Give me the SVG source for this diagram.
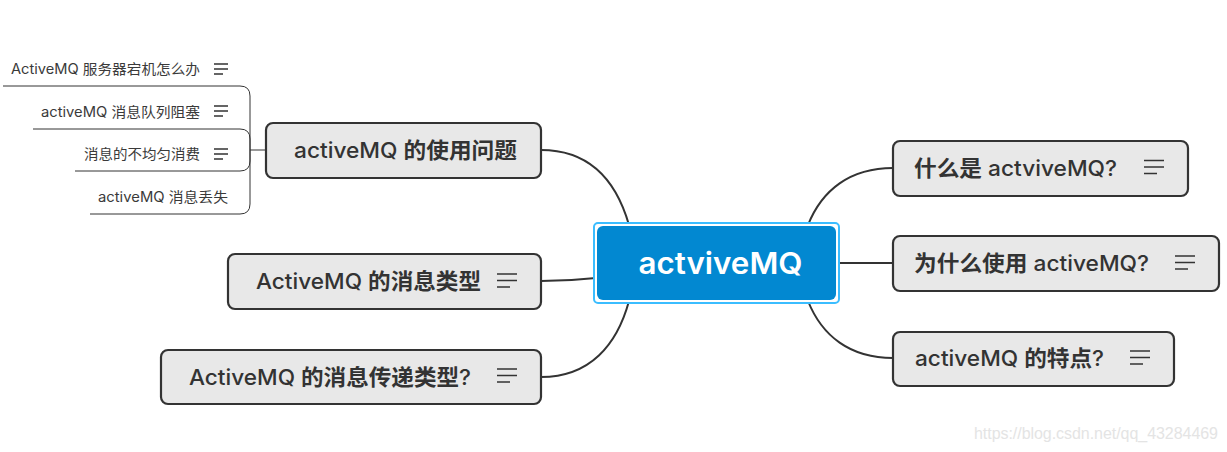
<svg xmlns="http://www.w3.org/2000/svg" width="1227" height="452" viewBox="0 0 1227 452">
<style>
text{font-family:"Inter","Noto Sans CJK SC",sans-serif;fill:#333}
.topic{fill:#e8e8e8;stroke:#333;stroke-width:2.200}
.t{font-size:22px;font-weight:500}
.c{font-weight:700}
.s{font-size:14px;fill:#3a3a3a}
.link{fill:none;stroke:#333;stroke-width:2}
.sub{fill:none;stroke:#333;stroke-width:1}
.n{fill:none;stroke:#333;stroke-width:1.300}
</style>
<defs><g id="note"><path class="n" d="M0 0H20M0 6.500H20M0 13H13"/></g><g id="smallnote"><path class="n" d="M0 0H14M0 5H14M0 10H9"/></g></defs>
<rect width="1227" height="452" fill="#fff"/>
<g id="connectors">
<path class="link" d="M541 150C590 150 616 180 629 225"/>
<path class="link" d="M541 281C560 281 578 280 596 278"/>
<path class="link" d="M541 377C590 377 617 345 629 301"/>
<path class="link" d="M808 225C822 190 850 168 893 168"/>
<path class="link" d="M836 263H893"/>
<path class="link" d="M808 301C822 336 850 358 893 358"/>
<path d="M250 150H266" fill="none" stroke="#777" stroke-width="1.500"/>
<path class="sub" d="M3 86H240Q250 86 250 96V204Q250 214 240 214H90"/>
<path class="sub" d="M33 129H240Q250 129 250 139V161Q250 171 240 171H75"/>
</g>
<g id="center">
<rect x="594" y="223" width="245" height="80" rx="4" fill="#fff" stroke="#3bbdff" stroke-width="2"/>
<rect x="597" y="226" width="239" height="74" rx="6" fill="#0288d1"/>
<text x="638.500" y="274" font-size="30" font-weight="600" style="fill:#fff" textLength="164" lengthAdjust="spacingAndGlyphs">actviveMQ</text>
</g>
<g id="what"><rect class="topic" x="893" y="141" width="295" height="55" rx="7"/><text class="t" x="914" y="176" textLength="203" lengthAdjust="spacingAndGlyphs"><tspan class="c">什么是</tspan> actviveMQ?</text><use href="#note" x="1144" y="160.500"/></g>
<g id="why"><rect class="topic" x="893" y="236" width="326" height="55" rx="7"/><text class="t" x="914" y="271" textLength="235" lengthAdjust="spacingAndGlyphs"><tspan class="c">为什么使用</tspan> activeMQ?</text><use href="#note" x="1175" y="256"/></g>
<g id="features"><rect class="topic" x="893" y="332" width="281" height="54" rx="7"/><text class="t" x="915" y="366" textLength="189" lengthAdjust="spacingAndGlyphs">activeMQ <tspan class="c">的特点</tspan>?</text><use href="#note" x="1130" y="351"/></g>
<g id="problems"><rect class="topic" x="266" y="123" width="275" height="55" rx="7"/><text class="t" x="294" y="158" textLength="223" lengthAdjust="spacingAndGlyphs">activeMQ <tspan class="c">的使用问题</tspan></text></g>
<g id="msgtype"><rect class="topic" x="228" y="254" width="313" height="55" rx="7"/><text class="t" x="256" y="289" textLength="225" lengthAdjust="spacingAndGlyphs">ActiveMQ <tspan class="c">的消息类型</tspan></text><use href="#note" x="497" y="274"/></g>
<g id="delivery"><rect class="topic" x="161" y="350" width="380" height="54" rx="7"/><text class="t" x="189" y="385" textLength="282" lengthAdjust="spacingAndGlyphs">ActiveMQ <tspan class="c">的消息传递类型</tspan>?</text><use href="#note" x="497" y="369"/></g>
<g id="sub1"><text class="s" x="11" y="74" textLength="189" lengthAdjust="spacingAndGlyphs">ActiveMQ 服务器宕机怎么办</text><use href="#smallnote" x="214" y="64"/></g>
<g id="sub2"><text class="s" x="41" y="117" textLength="159" lengthAdjust="spacingAndGlyphs">activeMQ 消息队列阻塞</text><use href="#smallnote" x="214" y="106"/></g>
<g id="sub3"><text class="s" x="84" y="159" textLength="116" lengthAdjust="spacingAndGlyphs">消息的不均匀消费</text><use href="#smallnote" x="214" y="149"/></g>
<g id="sub4"><text class="s" x="98" y="202" textLength="130" lengthAdjust="spacingAndGlyphs">activeMQ 消息丢失</text></g>
<text x="974" y="439" font-size="16" style="fill:#e4e4e4;font-family:'Liberation Sans',sans-serif" textLength="244">https://blog.csdn.net/qq_43284469</text>
</svg>
